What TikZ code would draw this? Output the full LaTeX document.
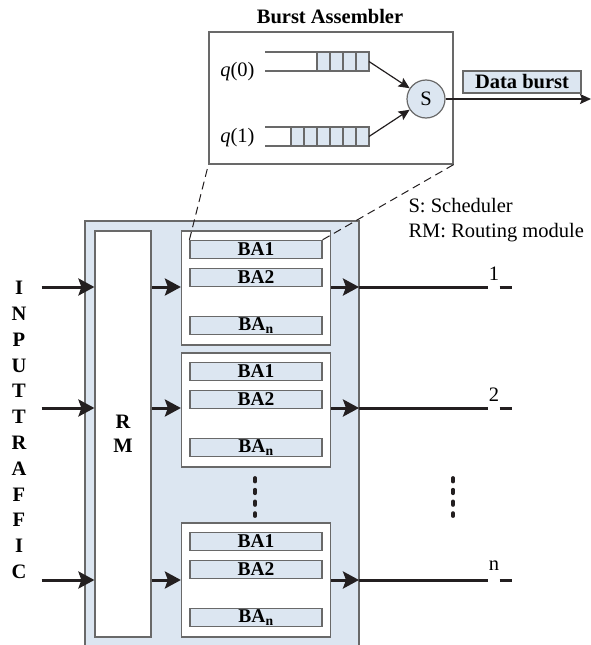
\documentclass[tikz,border=0pt]{standalone}
\usepackage{fontspec}
\setmainfont{Liberation Serif}
\usepackage{tikz}
\usetikzlibrary{arrows.meta,positioning,shapes.geometric}
\definecolor{bablue}{RGB}{220,230,241}
\definecolor{edgegray}{RGB}{105,105,105}
\definecolor{inkblack}{RGB}{35,31,32}
\tikzstyle{babox} = [rectangle, minimum width=132pt, minimum height=18pt, inner sep=0pt, text centered, draw=edgegray, line width=1.2pt, fill=bablue, font=\bfseries\fontsize{19.5}{22}\selectfont]
\tikzstyle{group} = [rectangle, minimum width=149pt, minimum height=114pt, inner sep=0pt, draw=edgegray, line width=1.2pt, fill=white]
\tikzstyle{module} = [rectangle, minimum width=56pt, minimum height=406pt, inner sep=0pt, align=center, draw=edgegray, line width=1.2pt, fill=white, font=\bfseries\fontsize{20.5}{24}\selectfont]
\tikzstyle{assembler} = [rectangle, minimum width=244pt, minimum height=132pt, inner sep=0pt, draw=edgegray, line width=1.2pt]
\tikzstyle{cell} = [draw=edgegray, line width=1.2pt, fill=bablue]
\tikzstyle{qline} = [draw=edgegray, line width=1.2pt]
\tikzstyle{arrow} = [line width=3pt, draw=inkblack, -{Stealth[length=16pt,width=17pt,inset=3pt]}]
\tikzstyle{thinarrow} = [line width=1.2pt, draw=inkblack, -{Stealth[length=11pt,width=10pt,inset=2pt]}]
\tikzstyle{outline} = [line width=3pt, draw=inkblack]
\tikzstyle{zoomline} = [line width=1pt, draw=inkblack, dash pattern=on 8pt off 5pt]
\tikzstyle{vdots} = [line width=3.8pt, draw=inkblack, line cap=round, dash pattern=on 3.5pt off 8.2pt]
\tikzstyle{boldtext} = [font=\bfseries\fontsize{20.5}{22}\selectfont]

\begin{document}
\begin{tikzpicture}[x=1pt, y=-1pt, node distance=28pt, font=\fontsize{20.5}{24}\selectfont]
\useasboundingbox (0,0) rectangle (591,645);
% switch body
\fill[bablue] (85,221) rectangle (359,650);
\draw[qline] (85,650) |- (359,221) -- (359,650);
\node (rm) [module] at (123,434) {R\\M};
% burst assembler groups
\node (g1) [group] at (256,288) {};
\node (g1ba1) [babox] at ([yshift=-19pt]g1.north) {BA1};
\node (g1ba2) [babox, below of=g1ba1] {BA2};
\node (g1ban) [babox, below of=g1ba2, yshift=-20pt] {BA\textsubscript{n}};
\node (g2) [group] at (256,410) {};
\node (g2ba1) [babox] at ([yshift=-19pt]g2.north) {BA1};
\node (g2ba2) [babox, below of=g2ba1] {BA2};
\node (g2ban) [babox, below of=g2ba2, yshift=-20pt] {BA\textsubscript{n}};
\node (g3) [group] at (256,580) {};
\node (g3ba1) [babox] at ([yshift=-19pt]g3.north) {BA1};
\node (g3ba2) [babox, below of=g3ba1] {BA2};
\node (g3ban) [babox, below of=g3ba2, yshift=-20pt] {BA\textsubscript{n}};
% inputs and outputs
\node (input) [align=center, font=\bfseries\fontsize{20.5}{25.8}\selectfont] at (19,430) {I\\N\\P\\U\\T\\T\\R\\A\\F\\F\\I\\C};
\coordinate (in1) at (41.5,287);
\coordinate (in2) at (41.5,408);
\coordinate (in3) at (41.5,580);
\coordinate (o1) at (359,287);
\coordinate (o2) at (359,408);
\coordinate (o3) at (359,580);
\coordinate (e1) at (488,287);
\coordinate (e2) at (488,408);
\coordinate (e3) at (488,580);
\draw [arrow] (in1) -- (in1 -| rm.west);
\draw [arrow] (in2) -- (in2 -| rm.west);
\draw [arrow] (in3) -- (in3 -| rm.west);
\draw [arrow] (in1 -| rm.east) -- (in1 -| g1.west);
\draw [arrow] (in2 -| rm.east) -- (in2 -| g2.west);
\draw [arrow] (in3 -| rm.east) -- (in3 -| g3.west);
\draw [arrow] (o1 -| g1.east) -- (o1);
\draw [arrow] (o2 -| g2.east) -- (o2);
\draw [arrow] (o3 -| g3.east) -- (o3);
\draw [outline] (o1) -- (e1) ([xshift=11.5pt]e1) -- ([xshift=24pt]e1);
\draw [outline] (o2) -- (e2) ([xshift=11.5pt]e2) -- ([xshift=24pt]e2);
\draw [outline] (o3) -- (e3) ([xshift=11.5pt]e3) -- ([xshift=24pt]e3);
\node (lab1) at (494,274) {1};
\node (lab2) at (494,395) {2};
\node (labn) at (494,566) {n};
\draw [vdots] (255,478) -- (255,516);
\draw [vdots] (453,478) -- (453,516);
% legend
\node (legend) [anchor=west, align=left, font=\fontsize{20.5}{25}\selectfont] at (405,220) {S: Scheduler\\RM: Routing module};
% burst assembler detail
\node (ba) [assembler] at (331,98) {};
\node (batitle) [boldtext] at (330,17) {Burst Assembler};
\draw [qline] (265,52) -- (369,52) (265,71) -- (369,71);
\draw [cell] (317,52) rectangle +(13,19) (330,52) rectangle +(13,19) (343,52) rectangle +(13,19) (356,52) rectangle +(13,19);
\draw [qline] (265,127) -- (369,127) (265,146) -- (369,146);
\draw [cell] (291,127) rectangle +(13,19) (304,127) rectangle +(13,19) (317,127) rectangle +(13,19) (330,127) rectangle +(13,19) (343,127) rectangle +(13,19) (356,127) rectangle +(13,19);
\node (q0lab) [anchor=base east] at (258,76) {\textit{q}(0)};
\node (q1lab) [anchor=base east] at (258,142) {\textit{q}(1)};
\coordinate (q0) at (369,61.5);
\coordinate (q1) at (369,136.5);
\node (sch) [circle, minimum size=38pt, inner sep=0pt, draw=edgegray, line width=1.2pt, fill=bablue] at (426,99) {S};
\draw [thinarrow] (q0) -- (sch);
\draw [thinarrow] (q1) -- (sch);
\coordinate (burstout) at (591,99);
\draw [thinarrow, line width=1.6pt] (sch) -- (burstout);
\node (db) [rectangle, minimum width=118pt, minimum height=22pt, inner sep=0pt, draw=edgegray, line width=1.2pt, fill=bablue, boldtext] at (522,82) {Data burst};
\draw [zoomline] (g1ba1.north west) -- (ba.south west);
\draw [zoomline] (g1ba1.north east) -- (ba.south east);
\end{tikzpicture}
\end{document}
